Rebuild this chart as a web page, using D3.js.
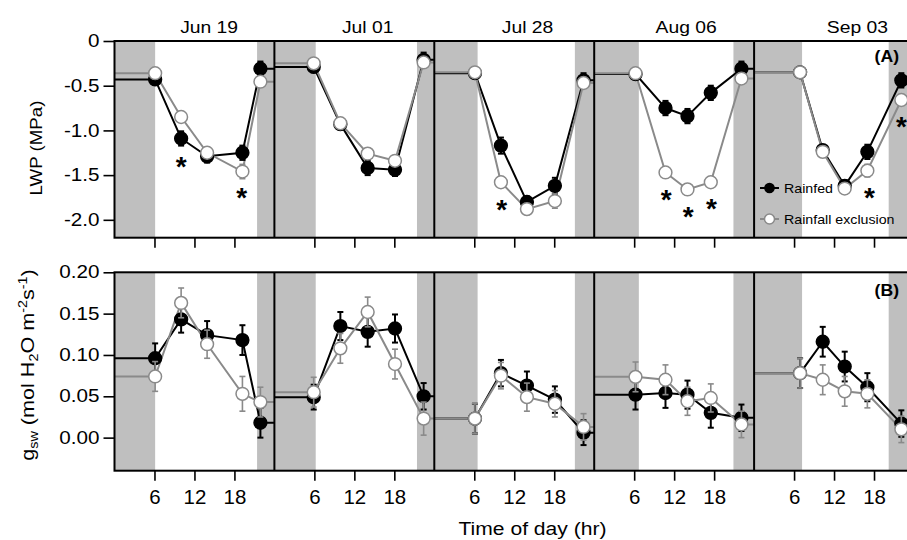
<!DOCTYPE html>
<html><head><meta charset="utf-8">
<script src="https://cdn.jsdelivr.net/npm/d3@7"></script>
<style>body{margin:0;background:#fff} svg{display:block} text{font-family:"Liberation Sans",Arial,sans-serif;fill:#000}</style>
</head><body><svg id="c" width="907" height="540"></svg>
<script>
// ---------- data ----------
const dates = ["Jun 19", "Jul 01", "Jul 28", "Aug 06", "Sep 03"];
const sunrise = [6.1, 6.2, 6.5, 6.7, 7.2];
const sunset = [21.4, 21.4, 21.1, 20.9, 20.2];
const hours = [
  [6.1, 10.0, 13.9, 19.2, 21.9],
  [5.9, 9.9, 14.0, 18.1, 22.4],
  [6.1, 10.0, 13.9, 18.1, 22.4],
  [6.2, 10.7, 14.0, 17.5, 22.1],
  [6.9, 10.3, 13.6, 17.0, 22.1]
];
const lwpRainfed = [
  [-0.43, -1.09, -1.29, -1.25, -0.31],
  [-0.29, -0.93, -1.42, -1.44, -0.21],
  [-0.36, -1.17, -1.80, -1.62, -0.44],
  [-0.37, -0.75, -0.84, -0.58, -0.31],
  [-0.35, -1.22, -1.62, -1.24, -0.44]
];
const lwpRainfedSE = [
  [0.05, 0.08, 0.07, 0.08, 0.08],
  [0.06, 0.05, 0.08, 0.07, 0.08],
  [0.05, 0.09, 0.06, 0.09, 0.08],
  [0.05, 0.08, 0.08, 0.08, 0.08],
  [0.05, 0.05, 0.06, 0.08, 0.08]
];
const lwpExcl = [
  [-0.36, -0.85, -1.25, -1.46, -0.455],
  [-0.25, -0.92, -1.26, -1.34, -0.24],
  [-0.35, -1.58, -1.88, -1.79, -0.47],
  [-0.36, -1.47, -1.66, -1.58, -0.42],
  [-0.35, -1.24, -1.65, -1.45, -0.66]
];
const lwpExclSE = [
  [0.06, 0.05, 0.06, 0.08, 0.05],
  [0.06, 0.05, 0.05, 0.05, 0.05],
  [0.06, 0.05, 0.06, 0.08, 0.05],
  [0.05, 0.05, 0.06, 0.05, 0.06],
  [0.05, 0.06, 0.06, 0.07, 0.06]
];
const gswRainfed = [
  [0.096, 0.143, 0.124, 0.118, 0.018],
  [0.049, 0.135, 0.128, 0.132, 0.050],
  [0.023, 0.078, 0.063, 0.046, 0.006],
  [0.052, 0.054, 0.052, 0.030, 0.024],
  [0.078, 0.116, 0.086, 0.061, 0.017]
];
const gswRainfedSE = [
  [0.018, 0.016, 0.017, 0.018, 0.018],
  [0.015, 0.017, 0.018, 0.017, 0.016],
  [0.018, 0.016, 0.017, 0.016, 0.015],
  [0.018, 0.018, 0.017, 0.018, 0.016],
  [0.018, 0.018, 0.018, 0.017, 0.016]
];
const gswExcl = [
  [0.074, 0.163, 0.113, 0.053, 0.043],
  [0.055, 0.108, 0.152, 0.089, 0.023],
  [0.023, 0.075, 0.049, 0.041, 0.013],
  [0.0735, 0.070, 0.044, 0.048, 0.016],
  [0.078, 0.070, 0.056, 0.053, 0.010]
];
const gswExclSE = [
  [0.018, 0.018, 0.017, 0.021, 0.018],
  [0.018, 0.018, 0.018, 0.018, 0.020],
  [0.018, 0.016, 0.017, 0.016, 0.016],
  [0.018, 0.018, 0.017, 0.017, 0.016],
  [0.018, 0.018, 0.018, 0.017, 0.016]
];
// significance markers (panel index, hour, LWP value)
const starPanel = [0, 0, 2, 3, 3, 3, 4, 4];
const starHour  = [10.0, 19.1, 10.1, 10.8, 14.1, 17.6, 17.3, 22.1];
const starLwp   = [-1.33, -1.68, -1.81, -1.70, -1.89, -1.80, -1.68, -0.88];
const hourTicks = [6, 12, 18];
const lwpTicks = [0, -0.5, -1.0, -1.5, -2.0];
const gswTicks = [0.20, 0.15, 0.10, 0.05, 0.00];
const seriesNames = ["Rainfed", "Rainfall exclusion"];

// ---------- layout ----------
const svg = d3.select("#c");
const x0 = 114.5, panelW = 159.9;
const panelX = d3.scaleBand().domain(dates).range([x0, x0 + panelW * dates.length]).paddingInner(0).paddingOuter(0);
const hx = d3.scaleLinear().domain([0, 24]).range([0, panelX.bandwidth()]);
const yTop = d3.scaleLinear().domain([-2.2, 0]).range([237.7, 41]);
const yBot = d3.scaleLinear().domain([-0.04, 0.20]).range([470.7, 272.3]);
const BAND = "#bfbfbf", GRAY = "#8a8a8a";
const labelHour = [14.2, 14.0, 14.0, 13.8, 15.5];

function stext(g, x, y, txt, size, sx, anchor, weight) {
  return g.append("text")
    .attr("transform", `translate(${x},${y}) scale(${sx},1)`)
    .attr("text-anchor", anchor || "start")
    .style("font-size", size + "px")
    .style("font-weight", weight || "normal")
    .text(txt);
}

function drawPanelRow(y, rainfed, rainfedSE, excl, exclSE, showLabels) {
  const [yb, yt] = y.range();
  const g = svg.append("g");
  dates.forEach((d, i) => {
    const px = panelX(d);
    const pg = g.append("g").attr("transform", `translate(${px},0)`);
    pg.append("rect").attr("x", hx(0)).attr("y", yt).attr("width", hx(sunrise[i]) - hx(0)).attr("height", yb - yt).attr("fill", BAND);
    pg.append("rect").attr("x", hx(sunset[i])).attr("y", yt).attr("width", hx(24) - hx(sunset[i])).attr("height", yb - yt).attr("fill", BAND);
    const mk = vals => {
      const pts = hours[i].map((h, k) => [h, vals[i][k]]);
      return [[0, vals[i][0]], ...pts, [24, vals[i][vals[i].length - 1]]];
    };
    const line = d3.line().x(p => hx(p[0])).y(p => y(p[1]));
    pg.append("path").attr("d", line(mk(rainfed))).attr("fill", "none").attr("stroke", "#000").attr("stroke-width", 2);
    pg.append("path").attr("d", line(mk(excl))).attr("fill", "none").attr("stroke", GRAY).attr("stroke-width", 2);
    const drawSeries = (vals, se, col, fill, ew) => {
      hours[i].forEach((h, k) => {
        const cx = hx(h), v = vals[i][k], e = se[i][k];
        const y1 = y(v - e), y2 = y(v + e);
        pg.append("line").attr("x1", cx).attr("x2", cx).attr("y1", y1).attr("y2", y2).attr("stroke", col).attr("stroke-width", ew);
        [y1, y2].forEach(yy => pg.append("line").attr("x1", cx - 3).attr("x2", cx + 3).attr("y1", yy).attr("y2", yy).attr("stroke", col).attr("stroke-width", ew));
      });
      hours[i].forEach((h, k) => {
        pg.append("circle").attr("cx", hx(h)).attr("cy", y(vals[i][k])).attr("r", 6.4)
          .attr("fill", fill).attr("stroke", col).attr("stroke-width", 1.5);
      });
    };
    drawSeries(rainfed, rainfedSE, "#000", "#000", 2);
    drawSeries(excl, exclSE, GRAY, "#fff", 1.6);
    const ax = pg.append("g").attr("transform", `translate(0,${yb})`)
      .call(d3.axisBottom(hx).tickValues(hourTicks).tickSize(10).tickPadding(6).tickFormat(showLabels ? d3.format("d") : ""));
    ax.select(".domain").remove();
    ax.selectAll("line").attr("stroke-width", 1.6);
    ax.selectAll("text").style("font-size", "19.5px").attr("font-family", null).attr("transform", "scale(1.05,1)").attr("dy", "0.9em");
  });
  g.append("rect").attr("x", x0).attr("y", yt).attr("width", panelW * dates.length).attr("height", yb - yt)
    .attr("fill", "none").attr("stroke", "#000").attr("stroke-width", 2);
  dates.forEach((d, i) => {
    if (i === 0) return;
    g.append("line").attr("x1", panelX(d)).attr("x2", panelX(d)).attr("y1", yt).attr("y2", yb).attr("stroke", "#000").attr("stroke-width", 2);
  });
  return g;
}

drawPanelRow(yTop, lwpRainfed, lwpRainfedSE, lwpExcl, lwpExclSE, false);
drawPanelRow(yBot, gswRainfed, gswRainfedSE, gswExcl, gswExclSE, true);

function yAxis(scale, ticks, fmt) {
  const a = svg.append("g").attr("transform", `translate(${x0},0)`)
    .call(d3.axisLeft(scale).tickValues(ticks).tickSize(11).tickPadding(4).tickFormat(fmt));
  a.select(".domain").remove();
  a.selectAll("line").attr("stroke-width", 1.6);
  a.selectAll("text").style("font-size", "17.5px").attr("font-family", null)
    .attr("x", -15 / 1.18).attr("transform", "scale(1.18,1)");
}
yAxis(yTop, lwpTicks, v => v === 0 ? "0" : v.toFixed(1));
yAxis(yBot, gswTicks, v => v.toFixed(2));

dates.forEach((d, i) => stext(svg, panelX(d) + hx(labelHour[i]), 33, d, 16.8, 1.15, "middle"));

starPanel.forEach((p, j) => {
  const fs = 28;
  svg.append("text").attr("x", panelX(dates[p]) + hx(starHour[j])).attr("y", yTop(starLwp[j]) + 0.58 * fs)
    .attr("text-anchor", "middle").style("font-size", fs + "px").style("font-weight", "bold").text("*");
});

stext(svg, 899, 62, "(A)", 16, 1.1, "end", "bold");
stext(svg, 899, 296, "(B)", 16, 1.1, "end", "bold");

const lg = svg.append("g");
[0, 1].forEach(k => {
  const ly = k === 0 ? 188 : 219;
  lg.append("line").attr("x1", 760).attr("x2", 779).attr("y1", ly).attr("y2", ly)
    .attr("stroke", k === 0 ? "#000" : GRAY).attr("stroke-width", 2);
  lg.append("circle").attr("cx", 769.5).attr("cy", ly).attr("r", k === 0 ? 4.6 : 5)
    .attr("fill", k === 0 ? "#000" : "#fff").attr("stroke", k === 0 ? "#000" : GRAY).attr("stroke-width", 1.5);
  stext(lg, 784, ly + 4.5, seriesNames[k], 12.8, 1.11, "start");
});

svg.append("text").attr("transform", "translate(41.7,148) rotate(-90) scale(1.1,1)")
  .attr("text-anchor", "middle").style("font-size", "17px").text("LWP (MPa)");
const gt = svg.append("text").attr("transform", "translate(33.5,365) rotate(-90) scale(1.2,1)")
  .attr("text-anchor", "middle").style("font-size", "18px");
gt.append("tspan").text("g");
gt.append("tspan").style("font-size", "12px").attr("dy", 4).text("sw");
gt.append("tspan").attr("dy", -4).text(" (mol H");
gt.append("tspan").style("font-size", "12px").attr("dy", 4).text("2");
gt.append("tspan").attr("dy", -4).text("O m");
gt.append("tspan").style("font-size", "12px").attr("dy", -7).text("-2");
gt.append("tspan").attr("dy", 7).text("s");
gt.append("tspan").style("font-size", "12px").attr("dy", -7).text("-1");
gt.append("tspan").attr("dy", 7).text(")");

stext(svg, 532.5, 535, "Time of day (hr)", 18.5, 1.14, "middle");
</script></body></html>
